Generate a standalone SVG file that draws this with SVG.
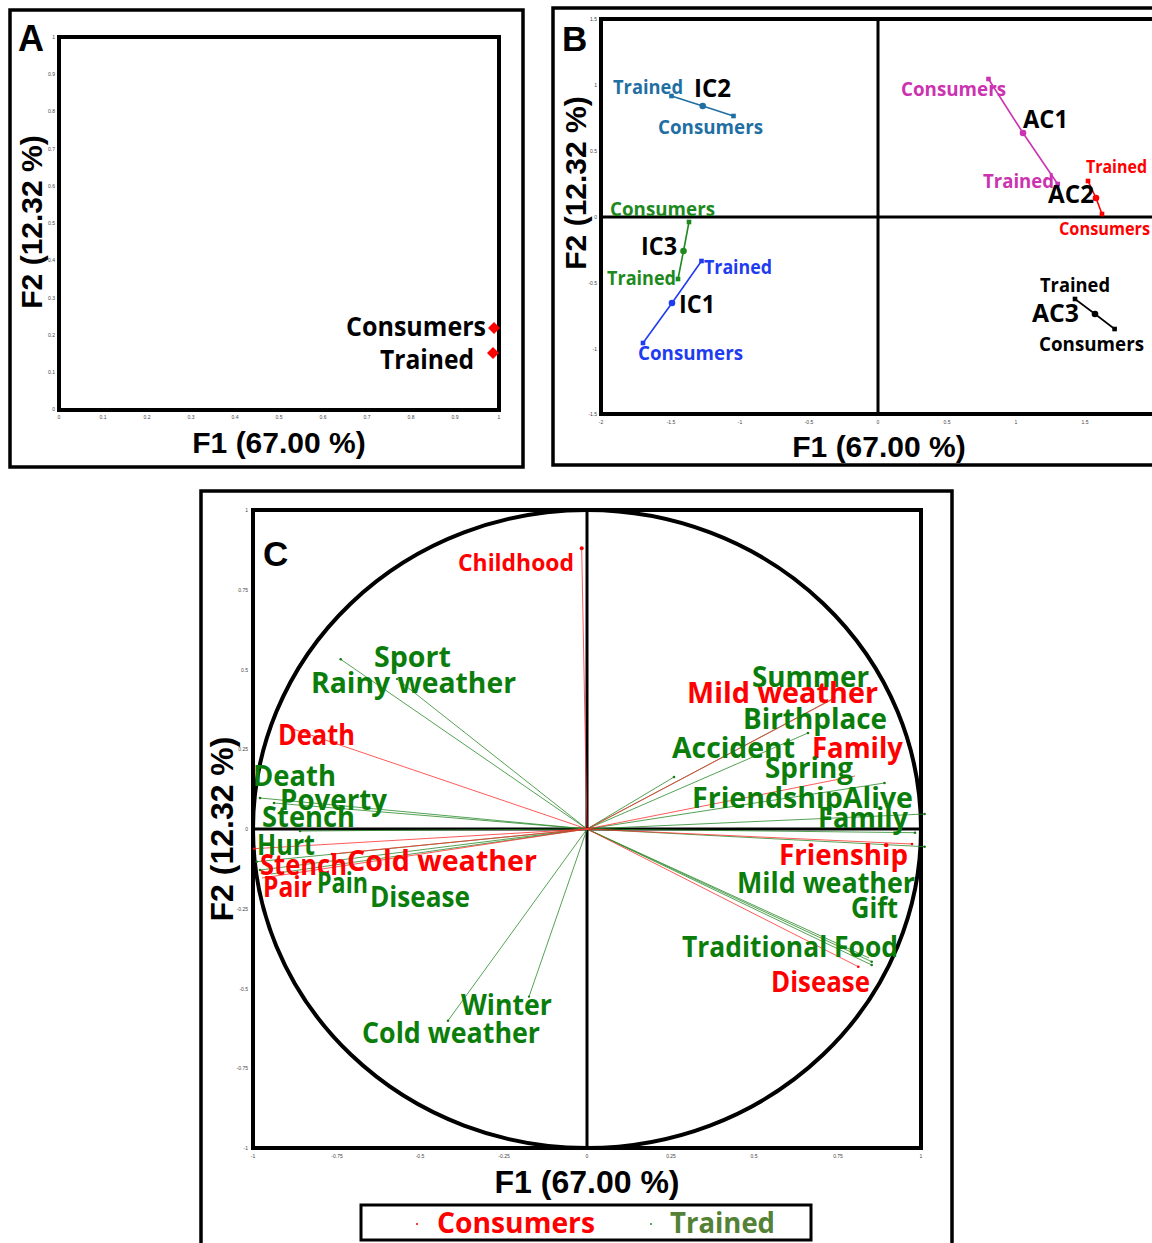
<svg xmlns="http://www.w3.org/2000/svg" width="1152" height="1243" viewBox="0 0 1152 1243">
<style>
.frame{fill:none;stroke:#000;stroke-width:3.5}
.plot{fill:none;stroke:#000;stroke-width:4}
.axis{stroke:#000;stroke-width:3;fill:none}
.tick{font-family:"Liberation Sans",Arial,sans-serif;font-size:5px;fill:#444}
.tx{text-anchor:middle}
.ty{text-anchor:end}
.title{font-family:"Liberation Sans",Arial,sans-serif;font-weight:bold;fill:#000}
.lbl{font-family:"Open Sans","Liberation Sans",sans-serif;font-weight:bold}
.k{fill:#000}.r{fill:#ff0000}.g{fill:#0a7d0a}.teal{fill:#1f6fa3}.mag{fill:#cc33b0}.blu{fill:#1f3cf0}.grn{fill:#1e8a1e}.olive{fill:#538135}
.vr{stroke:#ff3030;stroke-width:0.8}
.vg{stroke:#2a8a2a;stroke-width:0.8}
.dr{fill:#ff0000}.dg{fill:#1a7a1a}
</style>
<defs>
<path id="dia" d="M0,-6 L6,0 L0,6 L-6,0 Z" fill="#ff0000"/>
<rect id="sq" x="-2.3" y="-2.3" width="4.6" height="4.6"/>
</defs>

<g id="panelA">
<rect class="frame" x="10" y="10" width="513" height="457"/>
<rect class="plot" x="59" y="37" width="440" height="373"/>
<g class="tick ty">
<text x="55" y="39">1</text><text x="55" y="76">0.9</text><text x="55" y="113">0.8</text><text x="55" y="151">0.7</text><text x="55" y="188">0.6</text><text x="55" y="225">0.5</text><text x="55" y="262">0.4</text><text x="55" y="300">0.3</text><text x="55" y="337">0.2</text><text x="55" y="374">0.1</text><text x="55" y="411">0</text>
</g>
<g class="tick tx">
<text x="59" y="419">0</text><text x="103" y="419">0.1</text><text x="147" y="419">0.2</text><text x="191" y="419">0.3</text><text x="235" y="419">0.4</text><text x="279" y="419">0.5</text><text x="323" y="419">0.6</text><text x="367" y="419">0.7</text><text x="411" y="419">0.8</text><text x="455" y="419">0.9</text><text x="499" y="419">1</text>
</g>
<text class="title" x="18" y="51" font-size="36">A</text>
<text class="title" x="279" y="453" font-size="30" text-anchor="middle">F1 (67.00 %)</text>
<text class="title" transform="translate(42,222) rotate(-90)" font-size="30" text-anchor="middle">F2 (12.32 %)</text>
<g id="A-consumers"><use href="#dia" x="494" y="328"/><text class="lbl k" x="346" y="336" font-size="26" textLength="140" lengthAdjust="spacingAndGlyphs">Consumers</text></g>
<g id="A-trained"><use href="#dia" x="493" y="353"/><text class="lbl k" x="380" y="369" font-size="26" textLength="94" lengthAdjust="spacingAndGlyphs">Trained</text></g>
</g>

<g id="panelB">
<rect class="frame" x="553" y="8" width="700" height="457"/>
<rect class="plot" x="601" y="19" width="600" height="395" stroke-width="3"/>
<line class="axis" x1="878" y1="19" x2="878" y2="414"/>
<line class="axis" x1="601" y1="217" x2="1152" y2="217"/>
<g class="tick ty">
<text x="597" y="21">1.5</text><text x="597" y="87">1</text><text x="597" y="153">0.5</text><text x="597" y="219">0</text><text x="597" y="285">-0.5</text><text x="597" y="351">-1</text><text x="597" y="416">-1.5</text>
</g>
<g class="tick tx">
<text x="601" y="424">-2</text><text x="671" y="424">-1.5</text><text x="740" y="424">-1</text><text x="809" y="424">-0.5</text><text x="878" y="424">0</text><text x="947" y="424">0.5</text><text x="1016" y="424">1</text><text x="1085" y="424">1.5</text>
</g>
<text class="title" x="562" y="51" font-size="35">B</text>
<text class="title" x="879" y="457" font-size="30" text-anchor="middle">F1 (67.00 %)</text>
<text class="title" transform="translate(586,183) rotate(-90)" font-size="30" text-anchor="middle">F2 (12.32 %)</text>

<g id="IC2">
<polyline points="671.5,96 702.7,106 733.5,116" fill="none" stroke="#1f6fa3" stroke-width="1.6"/>
<use href="#sq" x="671.5" y="96" fill="#1f6fa3"/><circle cx="702.7" cy="106" r="3.3" fill="#1f6fa3"/><use href="#sq" x="733.5" y="116" fill="#1f6fa3"/>
<text class="lbl teal" x="613" y="94" font-size="20" textLength="70" lengthAdjust="spacingAndGlyphs">Trained</text>
<text class="lbl k" x="694" y="97" font-size="25" textLength="37" lengthAdjust="spacingAndGlyphs">IC2</text>
<text class="lbl teal" x="658" y="134" font-size="20" textLength="105" lengthAdjust="spacingAndGlyphs">Consumers</text>
</g>
<g id="AC1">
<polyline points="988.5,79 1023,133 1057.7,184" fill="none" stroke="#cc33b0" stroke-width="1.6"/>
<use href="#sq" x="988.5" y="79" fill="#cc33b0"/><circle cx="1023" cy="133" r="3.3" fill="#cc33b0"/><use href="#sq" x="1057.7" y="184" fill="#cc33b0"/>
<text class="lbl mag" x="901" y="96" font-size="20" textLength="105" lengthAdjust="spacingAndGlyphs">Consumers</text>
<text class="lbl k" x="1023" y="128" font-size="25" textLength="45" lengthAdjust="spacingAndGlyphs">AC1</text>
<text class="lbl mag" x="983" y="188" font-size="20" textLength="71" lengthAdjust="spacingAndGlyphs">Trained</text>
</g>
<g id="AC2">
<polyline points="1088,181 1096,198 1102,214" fill="none" stroke="#ff0000" stroke-width="1.6"/>
<use href="#sq" x="1088" y="181" fill="#ff0000"/><circle cx="1096" cy="198" r="3.3" fill="#ff0000"/><use href="#sq" x="1102" y="214" fill="#ff0000"/>
<text class="lbl r" x="1086" y="173" font-size="18" textLength="61" lengthAdjust="spacingAndGlyphs">Trained</text>
<text class="lbl k" x="1048" y="203" font-size="25" textLength="46" lengthAdjust="spacingAndGlyphs">AC2</text>
<text class="lbl r" x="1059" y="235" font-size="18" textLength="91" lengthAdjust="spacingAndGlyphs">Consumers</text>
</g>
<g id="IC3">
<polyline points="689,222 683.5,251 678,279" fill="none" stroke="#1e8a1e" stroke-width="1.6"/>
<use href="#sq" x="689" y="222" fill="#1e8a1e"/><circle cx="683.5" cy="251" r="3.3" fill="#1e8a1e"/><use href="#sq" x="678" y="279" fill="#1e8a1e"/>
<text class="lbl grn" x="610" y="216" font-size="20" textLength="105" lengthAdjust="spacingAndGlyphs">Consumers</text>
<text class="lbl k" x="641" y="255" font-size="25" textLength="36" lengthAdjust="spacingAndGlyphs">IC3</text>
<text class="lbl grn" x="607" y="285" font-size="20" textLength="69" lengthAdjust="spacingAndGlyphs">Trained</text>
</g>
<g id="IC1">
<polyline points="701.5,261 672,303 643,343" fill="none" stroke="#1f3cf0" stroke-width="1.6"/>
<use href="#sq" x="701.5" y="261" fill="#1f3cf0"/><circle cx="672" cy="303" r="3.3" fill="#1f3cf0"/><use href="#sq" x="643" y="343" fill="#1f3cf0"/>
<text class="lbl blu" x="704" y="274" font-size="20" textLength="68" lengthAdjust="spacingAndGlyphs">Trained</text>
<text class="lbl k" x="679" y="313" font-size="25" textLength="36" lengthAdjust="spacingAndGlyphs">IC1</text>
<text class="lbl blu" x="638" y="360" font-size="20" textLength="105" lengthAdjust="spacingAndGlyphs">Consumers</text>
</g>
<g id="AC3">
<polyline points="1075,299 1095,314 1114.6,329" fill="none" stroke="#000" stroke-width="1.6"/>
<use href="#sq" x="1075" y="299" fill="#000"/><circle cx="1095" cy="314" r="3.3" fill="#000"/><use href="#sq" x="1114.6" y="329" fill="#000"/>
<text class="lbl k" x="1040" y="292" font-size="20" textLength="70" lengthAdjust="spacingAndGlyphs">Trained</text>
<text class="lbl k" x="1032" y="322" font-size="25" textLength="47" lengthAdjust="spacingAndGlyphs">AC3</text>
<text class="lbl k" x="1039" y="351" font-size="20" textLength="105" lengthAdjust="spacingAndGlyphs">Consumers</text>
</g>
</g>

<g id="panelC">
<rect class="frame" x="201" y="491" width="751" height="800"/>
<rect class="plot" x="253" y="510" width="668" height="638"/>
<line class="axis" x1="587" y1="510" x2="587" y2="1148"/>
<line class="axis" x1="253" y1="829" x2="921" y2="829"/>
<ellipse cx="587" cy="829" rx="334" ry="319" fill="none" stroke="#000" stroke-width="4"/>
<g class="tick ty">
<text x="248" y="512">1</text><text x="248" y="592">0.75</text><text x="248" y="672">0.5</text><text x="248" y="751">0.25</text><text x="248" y="831">0</text><text x="248" y="911">-0.25</text><text x="248" y="991">-0.5</text><text x="248" y="1070">-0.75</text><text x="248" y="1150">-1</text>
</g>
<g class="tick tx">
<text x="253" y="1158">-1</text><text x="337" y="1158">-0.75</text><text x="420" y="1158">-0.5</text><text x="504" y="1158">-0.25</text><text x="587" y="1158">0</text><text x="671" y="1158">0.25</text><text x="754" y="1158">0.5</text><text x="838" y="1158">0.75</text><text x="921" y="1158">1</text>
</g>
<text class="title" x="263" y="566" font-size="35">C</text>
<text class="title" x="587" y="1193" font-size="32" text-anchor="middle">F1 (67.00 %)</text>
<text class="title" transform="translate(233,829) rotate(-90)" font-size="32" text-anchor="middle">F2 (12.32 %)</text>

<g id="vectors">
<g class="vg">
<line x1="587" y1="829" x2="340.7" y2="659.3"/><line x1="587" y1="829" x2="397" y2="679"/>
<line x1="587" y1="829" x2="260" y2="798"/><line x1="587" y1="829" x2="274" y2="803"/>
<line x1="587" y1="829" x2="300" y2="831"/><line x1="587" y1="829" x2="256.7" y2="861.7"/>
<line x1="587" y1="829" x2="260" y2="870"/><line x1="587" y1="829" x2="271" y2="874"/>
<line x1="587" y1="829" x2="448" y2="1020.7"/><line x1="587" y1="829" x2="529" y2="996.7"/>
<line x1="587" y1="829" x2="674" y2="777"/><line x1="587" y1="829" x2="808" y2="733"/>
<line x1="587" y1="829" x2="836" y2="697"/><line x1="587" y1="829" x2="884.5" y2="783"/>
<line x1="587" y1="829" x2="924.6" y2="814"/><line x1="587" y1="829" x2="915" y2="832.7"/>
<line x1="587" y1="829" x2="924.6" y2="846.7"/><line x1="587" y1="829" x2="871.7" y2="961.7"/>
<line x1="587" y1="829" x2="871.7" y2="965"/><line x1="587" y1="829" x2="869" y2="958"/>
</g>
<g class="vr">
<line x1="587" y1="829" x2="581.7" y2="548.3"/><line x1="587" y1="829" x2="290" y2="728"/>
<line x1="587" y1="829" x2="254" y2="848.7"/><line x1="587" y1="829" x2="332" y2="854"/>
<line x1="587" y1="829" x2="262" y2="878"/><line x1="587" y1="829" x2="833" y2="699"/>
<line x1="587" y1="829" x2="855" y2="776"/><line x1="587" y1="829" x2="912" y2="844"/>
<line x1="587" y1="829" x2="858.3" y2="966.7"/>
</g>
<g class="dg">
<circle cx="340.7" cy="659.3" r="1.3"/><circle cx="397" cy="679" r="1.1"/><circle cx="260" cy="798" r="1.3"/><circle cx="274" cy="803" r="1.3"/><circle cx="300" cy="831" r="1.3"/><circle cx="256.7" cy="861.7" r="1.3"/><circle cx="260" cy="870" r="1.3"/><circle cx="448" cy="1020.7" r="1.3"/><circle cx="529" cy="996.7" r="1.1"/><circle cx="674" cy="777" r="1.3"/><circle cx="808" cy="733" r="1.3"/><circle cx="884.5" cy="783" r="1.3"/><circle cx="924.6" cy="814" r="1.3"/><circle cx="915" cy="832.7" r="1.3"/><circle cx="924.6" cy="846.7" r="1.3"/><circle cx="871.7" cy="961.7" r="1.3"/><circle cx="871.7" cy="965" r="1.3"/>
</g>
<g class="dr">
<circle cx="581.7" cy="548.3" r="2"/><circle cx="254" cy="848.7" r="1.3"/><circle cx="332" cy="854" r="1.3"/><circle cx="912" cy="844" r="1.3"/><circle cx="858.3" cy="966.7" r="1.3"/>
</g>
</g>

<g id="C-left-labels" class="lbl" font-size="28">
<text class="r" x="458" y="571" font-size="24" textLength="116" lengthAdjust="spacingAndGlyphs">Childhood</text>
<text class="g" x="374" y="667" textLength="77" lengthAdjust="spacingAndGlyphs">Sport</text>
<text class="g" x="311" y="693" textLength="205" lengthAdjust="spacingAndGlyphs">Rainy weather</text>
<text class="r" x="278" y="745" textLength="77" lengthAdjust="spacingAndGlyphs">Death</text>
<text class="g" x="253" y="786" textLength="83" lengthAdjust="spacingAndGlyphs">Death</text>
<text class="g" x="280" y="810" textLength="107" lengthAdjust="spacingAndGlyphs">Poverty</text>
<text class="g" x="262" y="827" textLength="93" lengthAdjust="spacingAndGlyphs">Stench</text>
<text class="g" x="257" y="855" textLength="58" lengthAdjust="spacingAndGlyphs">Hurt</text>
<text class="r" x="260" y="875" textLength="87" lengthAdjust="spacingAndGlyphs">Stench</text>
<text class="r" x="347" y="871" textLength="190" lengthAdjust="spacingAndGlyphs">Cold weather</text>
<text class="r" x="263" y="897" textLength="49" lengthAdjust="spacingAndGlyphs">Pair</text>
<text class="g" x="317" y="893" textLength="51" lengthAdjust="spacingAndGlyphs">Pain</text>
<text class="g" x="370" y="907" textLength="100" lengthAdjust="spacingAndGlyphs">Disease</text>
<text class="g" x="461" y="1015" textLength="91" lengthAdjust="spacingAndGlyphs">Winter</text>
<text class="g" x="362" y="1043" textLength="178" lengthAdjust="spacingAndGlyphs">Cold weather</text>
</g>
<g id="C-right-labels" class="lbl" font-size="28">
<text class="g" x="752" y="687" textLength="117" lengthAdjust="spacingAndGlyphs">Summer</text>
<text class="r" x="687" y="703" textLength="191" lengthAdjust="spacingAndGlyphs">Mild weather</text>
<text class="g" x="743" y="729" textLength="144" lengthAdjust="spacingAndGlyphs">Birthplace</text>
<text class="g" x="672" y="758" textLength="123" lengthAdjust="spacingAndGlyphs">Accident</text>
<text class="r" x="812" y="758" textLength="91" lengthAdjust="spacingAndGlyphs">Family</text>
<text class="g" x="765" y="778" textLength="88" lengthAdjust="spacingAndGlyphs">Spring</text>
<text class="g" x="692" y="808" textLength="221" lengthAdjust="spacingAndGlyphs">FriendshipAlive</text>
<text class="g" x="818" y="828" textLength="90" lengthAdjust="spacingAndGlyphs">Family</text>
<text class="r" x="779" y="865" textLength="129" lengthAdjust="spacingAndGlyphs">Frienship</text>
<text class="g" x="737" y="893" textLength="178" lengthAdjust="spacingAndGlyphs">Mild weather</text>
<text class="g" x="851" y="918" textLength="47" lengthAdjust="spacingAndGlyphs">Gift</text>
<text class="g" x="682" y="957" textLength="216" lengthAdjust="spacingAndGlyphs">Traditional Food</text>
<text class="r" x="771" y="992" textLength="99" lengthAdjust="spacingAndGlyphs">Disease</text>
</g>

<g id="legend">
<rect x="361" y="1205" width="450" height="35" fill="#fff" stroke="#000" stroke-width="3"/>
<circle cx="417" cy="1224" r="1" fill="#ff0000"/>
<circle cx="651" cy="1224" r="1" fill="#2a8a2a"/>
<text class="lbl r" x="437" y="1233" font-size="29" textLength="158" lengthAdjust="spacingAndGlyphs">Consumers</text>
<text class="lbl olive" x="670" y="1233" font-size="29" textLength="105" lengthAdjust="spacingAndGlyphs">Trained</text>
</g>
</g>
</svg>
